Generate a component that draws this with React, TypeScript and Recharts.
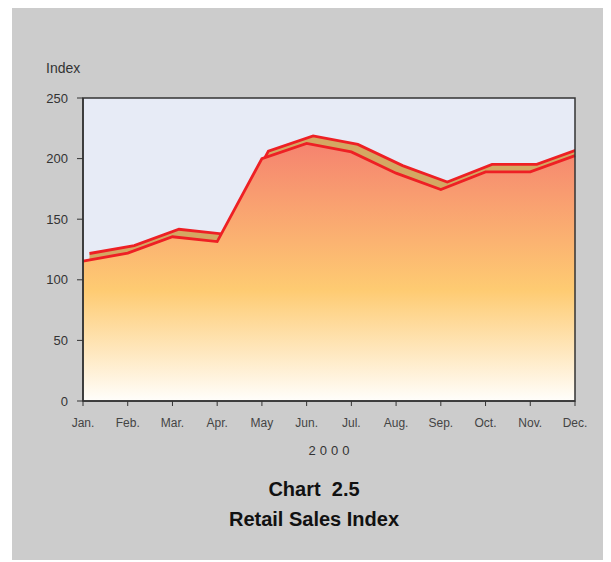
import React from 'react';
import { AreaChart, Area, XAxis, YAxis, CartesianGrid, ReferenceArea } from 'recharts';

const months = ['Jan.', 'Feb.', 'Mar.', 'Apr.', 'May', 'Jun.', 'Jul.', 'Aug.', 'Sep.', 'Oct.', 'Nov.', 'Dec.'];
const indexValues = [115.5, 122, 135.5, 131.5, 200, 212.5, 205.5, 188, 174.5, 189, 189, 202.5];
const yTicks = [0, 50, 100, 150, 200, 250];

const data = months.map((m, i) => ({ month: m, i, value: indexValues[i] }));

const FONT = '"Liberation Sans", Arial, sans-serif';
const RED = '#ee2024';

export default function App() {
  return (
    <div
      style={{
        position: 'relative',
        marginLeft: 4,
        width: 606,
        height: 552,
        background: '#cccccc',
        fontFamily: FONT,
      }}
    >
      <div style={{ position: 'absolute', left: 34, top: 53, fontSize: 14, lineHeight: '14px', color: '#333' }}>Index</div>
      <AreaChart width={599} height={440} data={data} margin={{ top: 90, right: 36, left: 0, bottom: 17 }}>
        <defs>
          <linearGradient id="frontGrad" x1="0" y1="0" x2="0" y2="1">
            <stop offset="0%" stopColor="#f5836f" />
            <stop offset="57%" stopColor="#fecb72" />
            <stop offset="100%" stopColor="#fffefb" />
          </linearGradient>
        </defs>
        <CartesianGrid fill="#e7ebf6" stroke="none" horizontal={false} vertical={false} />
        <XAxis
          dataKey="month"
          height={30}
          interval={0}
          tickSize={5}
          tickMargin={12}
          tick={{ fontSize: 12, fill: '#444', fontFamily: FONT }}
          axisLine={{ stroke: '#333', strokeWidth: 1.5 }}
          tickLine={{ stroke: '#333' }}
        />
        <XAxis xAxisId="back" type="number" dataKey="i" domain={[-0.145, 10.855]} allowDataOverflow hide />
        <YAxis
          width={71}
          domain={[0, 250]}
          ticks={yTicks}
          interval={0}
          tickSize={6}
          tickMargin={9}
          tick={{ fontSize: 13, fill: '#333', fontFamily: FONT }}
          axisLine={{ stroke: '#333', strokeWidth: 1.5 }}
          tickLine={{ stroke: '#333' }}
        />
        <YAxis yAxisId="back" domain={[-6.2, 243.8]} allowDataOverflow hide />
        <Area
          xAxisId="back"
          yAxisId="back"
          type="linear"
          dataKey="value"
          fill="#d4a862"
          fillOpacity={1}
          stroke={RED}
          strokeWidth={2.8}
          isAnimationActive={false}
          dot={false}
          activeDot={false}
        />
        <Area
          type="linear"
          dataKey="value"
          fill="url(#frontGrad)"
          fillOpacity={1}
          stroke={RED}
          strokeWidth={2.8}
          isAnimationActive={false}
          dot={false}
          activeDot={false}
        />
        <ReferenceArea x1="Jan." x2="Dec." y1={0} y2={250} fill="none" stroke="#333" strokeWidth={1.5} ifOverflow="visible" />
      </AreaChart>
      <div
        style={{
          position: 'absolute',
          left: 267,
          top: 436,
          width: 100,
          paddingLeft: 4,
          boxSizing: 'border-box',
          textAlign: 'center',
          fontSize: 13,
          lineHeight: '13px',
          letterSpacing: 4,
          color: '#333',
        }}
      >
        2000
      </div>
      <div
        style={{
          position: 'absolute',
          left: 0,
          width: 604,
          top: 471,
          textAlign: 'center',
          fontSize: 20,
          lineHeight: '20px',
          fontWeight: 'bold',
          color: '#111',
          whiteSpace: 'pre',
        }}
      >
        {'Chart  2.5'}
      </div>
      <div
        style={{
          position: 'absolute',
          left: 0,
          width: 604,
          top: 501,
          textAlign: 'center',
          fontSize: 20,
          lineHeight: '20px',
          fontWeight: 'bold',
          color: '#111',
        }}
      >
        Retail Sales Index
      </div>
    </div>
  );
}
